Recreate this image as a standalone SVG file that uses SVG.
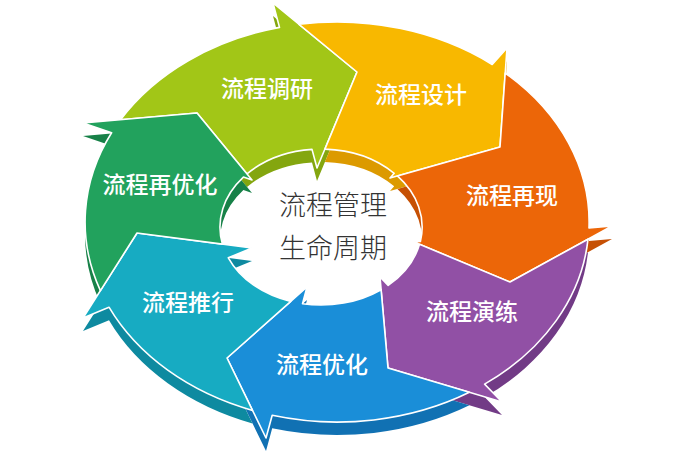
<svg xmlns="http://www.w3.org/2000/svg" xmlns:xlink="http://www.w3.org/1999/xlink" width="700" height="470" viewBox="0 0 700 470">
<style>
.face{stroke:#ffffff;stroke-width:1.6;stroke-linejoin:round}
.lbl{font-family:"Noto Sans CJK SC","Noto Sans",sans-serif;font-size:23px;font-weight:500;fill:#ffffff;text-anchor:middle}
.ctr{font-family:"Noto Sans CJK SC","Noto Sans",sans-serif;font-size:27px;font-weight:300;fill:#333333;text-anchor:middle}
</style>
<defs>
<path id="pA" d="M120.5 119.7 A252 200 0 0 1 279.5 27.4 L273 3 L357 72 L317 168 L312 149.4 A101 78 0 0 0 247 173.9 L197 113 Z"/>
<path id="pB" d="M299 24.3 A252 200 0 0 1 492.2 64.5 L507 48 L500 147 L390 178 L394.2 173.3 A101 78 0 0 0 324.9 149.1 L357 72 Z"/>
<path id="pC" d="M505.2 73.1 A252 200 0 0 1 589 227.9 L612 226 L510 282 L414 242 L420.4 241.5 A101 78 0 0 0 397.4 175.9 L500 147 Z"/>
<path id="pD" d="M588 239.2 A252 200 0 0 1 484.6 384.1 L502 402 L388 368 L380 277 L388.2 285.4 A101 78 0 0 0 419.5 244.3 L510 282 Z"/>
<path id="pE" d="M469.4 392.3 A252 200 0 0 1 272.2 415.3 L266 438 L227 358 L307 287 L302.5 303.7 A101 78 0 0 0 381.1 289.7 L388 368 Z"/>
<path id="pF" d="M252.5 410.4 A252 200 0 0 1 109 307.2 L83 318 L137 233 L252 248 L228.3 257.8 A101 78 0 0 0 290.8 301.4 L227 358 Z"/>
<path id="pG" d="M100.4 290.6 A252 200 0 0 1 111.6 132.7 L83 123 L197 113 L252 180 L243.4 177.1 A101 78 0 0 0 222.4 244.1 L137 233 Z"/>
</defs>
<rect width="700" height="470" fill="#ffffff"/>
<g id="depth" transform="translate(0,13)">
<use href="#pA" fill="#84a60f"/>
<use href="#pB" fill="#dc9a00"/>
<use href="#pC" fill="#c65004"/>
<use href="#pD" fill="#723b86"/>
<use href="#pE" fill="#1171b3"/>
<use href="#pF" fill="#0e8aa0"/>
<use href="#pG" fill="#178148"/>
</g>
<g id="node-diaoyan"><use href="#pA" class="face" fill="#a2c617"/><text class="lbl" x="267" y="97">流程调研</text></g>
<g id="node-sheji"><use href="#pB" class="face" fill="#f8b800"/><text class="lbl" x="421" y="103">流程设计</text></g>
<g id="node-zaixian"><use href="#pC" class="face" fill="#ec6608"/><text class="lbl" x="512" y="204">流程再现</text></g>
<g id="node-yanlian"><use href="#pD" class="face" fill="#9150a5"/><text class="lbl" x="472" y="320">流程演练</text></g>
<g id="node-youhua"><use href="#pE" class="face" fill="#1a8ed8"/><text class="lbl" x="322" y="373">流程优化</text></g>
<g id="node-tuixing"><use href="#pF" class="face" fill="#17abc2"/><text class="lbl" x="188" y="311">流程推行</text></g>
<g id="node-zaiyouhua"><use href="#pG" class="face" fill="#22a25d"/><text class="lbl" x="160" y="193">流程再优化</text></g>
<g id="center"><text class="ctr" x="333" y="215">流程管理</text><text class="ctr" x="333" y="258">生命周期</text></g>
</svg>
